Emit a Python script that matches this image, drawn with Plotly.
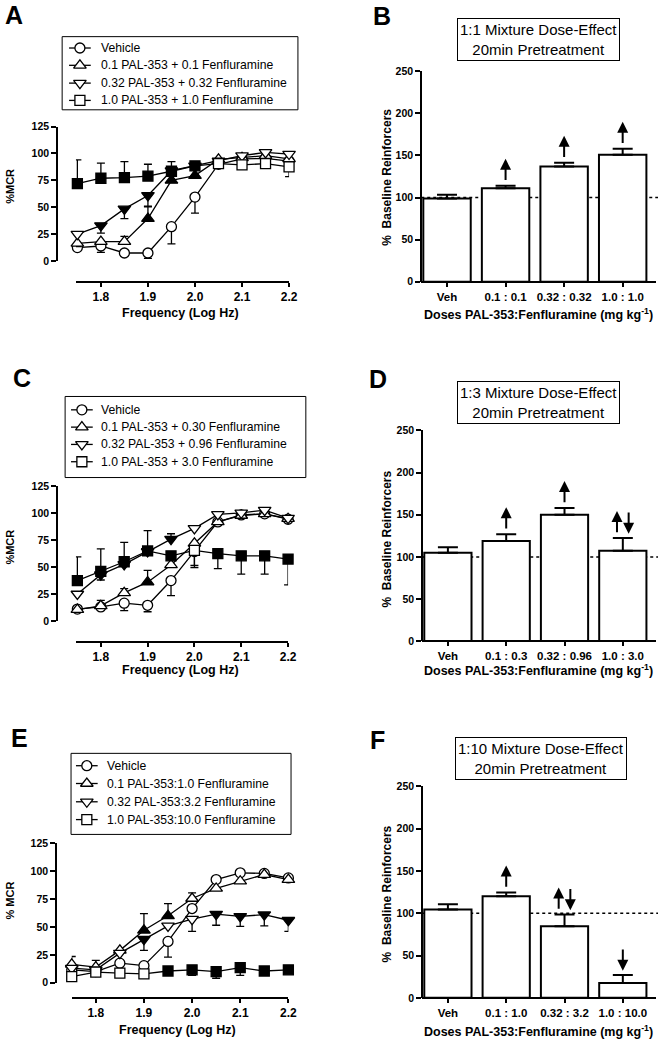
import plotly.graph_objects as go

W, H = 669, 1049
FONT = "Liberation Sans, Arial, sans-serif"


def px(x):
    return x / W


def py(y):
    return 1 - y / H


# ---------------- data ----------------
freq = [1.75, 1.80, 1.85, 1.90, 1.95, 2.00, 2.05, 2.10, 2.15, 2.20]
freq_ticks = [1.8, 1.9, 2.0, 2.1, 2.2]
freq_ticktext = ["1.8", "1.9", "2.0", "2.1", "2.2"]
mcr_ticks = [0, 25, 50, 75, 100, 125]
bar_ticks = [0, 50, 100, 150, 200, 250]

# Panel A
a_labels = ["Vehicle", "0.1 PAL-353 + 0.1 Fenfluramine",
            "0.32 PAL-353 + 0.32 Fenfluramine", "1.0 PAL-353 + 1.0 Fenfluramine"]
a_veh = [12.5, 14, 7.5, 7.5, 32, 59.5, 90, 95, 95.5, 93]
a_veh_up = [0, 0, 0, 0, 0, 0, 0, 0, 0, 0]
a_veh_dn = [0, 6, 0, 5, 16, 15, 0, 0, 0, 0]
a_veh_fill = [0, 0, 0, 0, 0, 0, 0, 0, 0, 0]
a_low = [16.5, 18, 18, 39.5, 75, 79.5, 94.5, 96, 98, 95]
a_low_up = [0, 0, 5, 11, 0, 0, 0, 0, 0, 0]
a_low_dn = [3, 0, 0, 0, 0, 0, 0, 0, 0, 0]
a_low_fill = [0, 0, 0, 1, 1, 1, 0, 0, 0, 0]
a_mid = [25, 33, 48.5, 61, 84, 88.5, 93, 98, 101, 99.5]
a_mid_up = [0, 0, 0, 0, 0, 0, 0, 0, 0, 0]
a_mid_dn = [0, 7, 9, 10, 0, 0, 0, 0, 0, 0]
a_mid_fill = [0, 1, 1, 1, 1, 1, 0, 0, 0, 0]
a_high = [72, 77, 77.5, 79, 83.5, 88.5, 90.5, 89.5, 90.5, 87.5]
a_high_up = [22, 14, 15, 11, 9, 0, 0, 0, 0, 0]
a_high_dn = [0, 0, 0, 0, 0, 0, 0, 0, 0, 9]
a_high_fill = [1, 1, 1, 1, 1, 1, 0, 0, 0, 0]

# Panel C
c_labels = ["Vehicle", "0.1 PAL-353 + 0.30 Fenfluramine",
            "0.32 PAL-353 + 0.96 Fenfluramine", "1.0 PAL-353 + 3.0 Fenfluramine"]
c_veh = [11, 13, 16.5, 14.5, 37.5, 64.5, 92, 98.5, 99.5, 94.5]
c_veh_up = [0, 0, 0, 0, 0, 0, 0, 0, 0, 0]
c_veh_dn = [0, 0, 7, 6, 14, 15, 0, 0, 0, 0]
c_veh_fill = [0, 0, 0, 0, 0, 0, 0, 0, 0, 0]
c_low = [10.5, 14, 26, 36, 52, 72, 92, 98, 99.5, 95]
c_low_up = [0, 5, 4, 11, 0, 0, 0, 0, 0, 0]
c_low_dn = [0, 0, 0, 0, 0, 0, 0, 0, 0, 0]
c_low_fill = [0, 0, 0, 1, 0, 0, 0, 0, 0, 0]
c_mid = [25, 43, 52.5, 64.5, 76, 86, 99, 100.5, 103, 95.5]
c_mid_up = [0, 0, 0, 0, 5, 0, 0, 0, 0, 0]
c_mid_dn = [0, 5, 0, 0, 0, 0, 0, 0, 0, 0]
c_mid_fill = [0, 1, 1, 1, 1, 0, 0, 0, 0, 0]
c_high = [37.5, 46, 55, 65, 60.5, 65.5, 62.5, 60.5, 60.5, 57.5]
c_high_up = [22, 21, 18, 19, 0, 0, 0, 0, 0, 0]
c_high_dn = [0, 0, 0, 0, 0, 14, 14, 17, 17, 24]
c_high_fill = [1, 1, 1, 1, 1, 0, 1, 1, 1, 1]

# Panel E
e_labels = ["Vehicle", "0.1 PAL-353:1.0 Fenfluramine",
            "0.32 PAL-353:3.2 Fenfluramine", "1.0 PAL-353:10.0 Fenfluramine"]
e_veh = [11.5, 10, 17.5, 15.3, 37, 66.5, 92.5, 98.5, 98, 94]
e_veh_up = [0, 0, 0, 0, 0, 0, 0, 0, 0, 0]
e_veh_dn = [0, 0, 0, 0, 14, 0, 0, 0, 0, 0]
e_veh_fill = [0, 0, 0, 0, 0, 0, 0, 0, 0, 0]
e_low = [16.5, 14, 29, 47, 60, 75.5, 84.5, 91, 97, 92.5]
e_low_up = [7, 6, 0, 15, 11, 5, 0, 0, 0, 0]
e_low_dn = [0, 0, 0, 0, 0, 0, 0, 0, 0, 0]
e_low_fill = [0, 0, 0, 1, 1, 0, 0, 0, 0, 0]
e_mid = [13, 11.5, 26.5, 39, 51, 57, 61.5, 59.5, 61, 56]
e_mid_up = [0, 0, 0, 0, 0, 0, 0, 0, 0, 0]
e_mid_dn = [0, 0, 0, 10, 0, 11, 10, 9, 10, 10]
e_mid_fill = [0, 0, 0, 1, 0, 0, 1, 1, 1, 1]
e_high = [5.5, 9.5, 8.5, 8, 10.5, 11.5, 10, 13.5, 10.5, 11.5]
e_high_up = [0, 0, 0, 0, 0, 0, 0, 0, 0, 0]
e_high_dn = [0, 0, 0, 0, 0, 5, 6, 7, 4, 0]
e_high_fill = [0, 0, 0, 0, 1, 1, 1, 1, 1, 1]

# Bar panels
b_cats = ["Veh", "0.1 : 0.1", "0.32 : 0.32", "1.0 : 1.0"]
b_vals = [99, 111, 137, 151]
b_err = [4.5, 3, 4.5, 7]
b_arrows = ["", "up", "up", "up"]
b_title = "1:1 Mixture Dose-Effect<br>20min Pretreatment"

d_cats = ["Veh", "0.1 : 0.3", "0.32 : 0.96", "1.0 : 3.0"]
d_vals = [105, 119, 150, 107.5]
d_err = [6.5, 8, 8, 15]
d_arrows = ["", "up", "up", "updown"]
d_title = "1:3 Mixture Dose-Effect<br>20min Pretreatment"

f_cats = ["Veh", "0.1 : 1.0", "0.32 : 3.2", "1.0 : 10.0"]
f_vals = [104.5, 120, 84.5, 17.5]
f_err = [6, 4.5, 14, 9.5]
f_arrows = ["", "up", "updown", "down"]
f_title = "1:10 Mixture Dose-Effect<br>20min Pretreatment"

# ---------------- figure ----------------
fig = go.Figure()
annotations = []
shapes = []
layout_axes = {}

symbols = ["circle", "triangle-up", "triangle-down", "square"]
msizes = [10, 11, 11, 10]

line_panels = [
    dict(n=1, labels=a_labels,
         series=[(a_veh, a_veh_up, a_veh_dn, a_veh_fill), (a_low, a_low_up, a_low_dn, a_low_fill),
                 (a_mid, a_mid_up, a_mid_dn, a_mid_fill), (a_high, a_high_up, a_high_dn, a_high_fill)],
         xdom=(77, 293), xr=[1.747, 2.2], xpos=279, ydom=(258, 122), ypos=58,
         legbox=(63, 31, 302, 105), legrows=(42.5, 60, 78, 95.5), legsym=81, legtext=100,
         letter=("A", 3, 9), ytitle=("%MCR", 10, 182), xtitle=(183, 311)),
    dict(n=3, labels=c_labels,
         series=[(c_veh, c_veh_up, c_veh_dn, c_veh_fill), (c_low, c_low_up, c_low_dn, c_low_fill),
                 (c_mid, c_mid_up, c_mid_dn, c_mid_fill), (c_high, c_high_up, c_high_dn, c_high_fill)],
         xdom=(77, 292), xr=[1.747, 2.2], xpos=643, ydom=(622, 486), ypos=58,
         legbox=(66, 395, 310, 477), legrows=(408.5, 426, 443.5, 461), legsym=83, legtext=100,
         letter=("C", 11, 376), ytitle=("%MCR", 10, 547), xtitle=(183, 672)),
    dict(n=5, labels=e_labels,
         series=[(e_veh, e_veh_up, e_veh_dn, e_veh_fill), (e_low, e_low_up, e_low_dn, e_low_fill),
                 (e_mid, e_mid_up, e_mid_dn, e_mid_fill), (e_high, e_high_up, e_high_dn, e_high_fill)],
         xdom=(72.7, 292.3), xr=[1.75, 2.2], xpos=1003, ydom=(988, 847), ypos=57,
         legbox=(72, 756, 295, 838), legrows=(768.5, 786.5, 805, 823), legsym=88, legtext=106,
         letter=("E", 9, 740), ytitle=("% MCR", 10, 905), xtitle=(180, 1036)),
]

# overlay axis in figure pixels, used only for the legend samples
OV_X, OV_Y = "x7", "y7"
layout_axes["xaxis7"] = dict(domain=[0, 1], range=[0, W], anchor="y7", visible=False, fixedrange=True)
layout_axes["yaxis7"] = dict(domain=[0, 1], range=[H, 0], anchor="x7", visible=False, fixedrange=True)

for p in line_panels:
    n = p["n"]
    xa, ya = f"x{n}" if n > 1 else "x", f"y{n}" if n > 1 else "y"
    for k, (vals, up, dn, fill) in enumerate(p["series"]):
        colors = ["black" if f else "white" for f in fill]
        fig.add_trace(go.Scatter(
            x=freq, y=vals, mode="lines+markers", xaxis=xa, yaxis=ya,
            showlegend=False, cliponaxis=False, name=p["labels"][k],
            line=dict(color="black", width=1.3),
            marker=dict(symbol=symbols[k], size=msizes[k], color=colors,
                        line=dict(color="black", width=1.3)),
            error_y=dict(type="data", symmetric=False, array=up, arrayminus=dn,
                         color="black", thickness=1.3, width=4),
        ))
    # legend box
    bx0, by0, bx1, by1 = p["legbox"]
    shapes.append(dict(type="rect", xref="paper", yref="paper", x0=px(bx0), x1=px(bx1),
                       y0=py(by1), y1=py(by0), line=dict(color="black", width=1),
                       fillcolor="white", layer="below"))
    for k, lab in enumerate(p["labels"]):
        r = p["legrows"][k]
        sx = p["legsym"]
        fig.add_trace(go.Scatter(
            x=[sx - 11, sx + 11], y=[r, r], mode="lines", xaxis=OV_X, yaxis=OV_Y,
            showlegend=False, hoverinfo="skip", cliponaxis=False,
            line=dict(color="black", width=1.3)))
        fig.add_trace(go.Scatter(
            x=[sx], y=[r], mode="markers", xaxis=OV_X, yaxis=OV_Y,
            showlegend=False, hoverinfo="skip", cliponaxis=False,
            marker=dict(symbol=symbols[k], size=msizes[k], color="white",
                        line=dict(color="black", width=1.3))))
        annotations.append(dict(text=lab, x=px(p["legtext"]), y=py(r), xref="paper", yref="paper",
                                xanchor="left", yanchor="middle", showarrow=False,
                                font=dict(family=FONT, size=12.2, color="black")))
    xkey = "xaxis" if n == 1 else f"xaxis{n}"
    ykey = "yaxis" if n == 1 else f"yaxis{n}"
    layout_axes[xkey] = dict(
        domain=[px(p["xdom"][0]), px(p["xdom"][1])], range=p["xr"], anchor="free",
        position=py(p["xpos"]), showline=True, linecolor="black", linewidth=2,
        ticks="outside", ticklen=4, tickwidth=2, tickcolor="black",
        tickvals=freq_ticks, ticktext=freq_ticktext, showgrid=False, zeroline=False,
        tickfont=dict(family=FONT, size=12, color="black", weight="bold"))
    layout_axes[ykey] = dict(
        domain=[py(p["ydom"][0]), py(p["ydom"][1])], range=[0, 125], anchor="free",
        position=px(p["ypos"]), showline=True, linecolor="black", linewidth=2,
        ticks="outside", ticklen=5, tickwidth=2, tickcolor="black",
        tickvals=mcr_ticks, showgrid=False, zeroline=False,
        tickfont=dict(family=FONT, size=10.5, color="black", weight="bold"))
    L, lx, ly = p["letter"]
    annotations.append(dict(text=f"<b>{L}</b>", x=px(lx), y=py(ly), xref="paper", yref="paper",
                            xanchor="left", yanchor="middle", showarrow=False,
                            font=dict(family=FONT, size=25, color="black")))
    t, tx, ty = p["ytitle"]
    annotations.append(dict(text=f"<b>{t}</b>", x=px(tx), y=py(ty), xref="paper", yref="paper",
                            xanchor="center", yanchor="middle", textangle=-90, showarrow=False,
                            font=dict(family=FONT, size=11, color="black")))
    annotations.append(dict(text="<b>Frequency (Log Hz)</b>", x=px(p["xtitle"][0]), y=py(p["xtitle"][1]),
                            xref="paper", yref="paper", xanchor="center", yanchor="middle",
                            showarrow=False, font=dict(family=FONT, size=12.5, color="black")))

bar_panels = [
    dict(n=2, cats=b_cats, vals=b_vals, err=b_err, arrows=b_arrows, title=b_title,
         xdom=(427, 665), ydom=(279, 66), box=(546, 33.5), letter=("B", 376, 10),
         ytitle_y=173, xtitle_y=312),
    dict(n=4, cats=d_cats, vals=d_vals, err=d_err, arrows=d_arrows, title=d_title,
         xdom=(428, 665), ydom=(642.7, 429.3), box=(546, 401), letter=("D", 372, 377),
         ytitle_y=539, xtitle_y=672),
    dict(n=6, cats=f_cats, vals=f_vals, err=f_err, arrows=f_arrows, title=f_title,
         xdom=(428, 665), ydom=(1003.3, 789.3), box=(548, 761.5), letter=("F", 373, 742),
         ytitle_y=898, xtitle_y=1037),
]

for p in bar_panels:
    n = p["n"]
    xa, ya = f"x{n}", f"y{n}"
    xs = list(range(len(p["cats"])))
    fig.add_trace(go.Bar(
        x=xs, y=p["vals"], xaxis=xa, yaxis=ya, width=0.81, showlegend=False,
        marker=dict(color="white", line=dict(color="black", width=2)),
        error_y=dict(type="data", symmetric=False, array=p["err"],
                     arrayminus=[0] * len(xs), color="black", thickness=2, width=10),
    ))
    layout_axes[f"xaxis{n}"] = dict(
        domain=[px(p["xdom"][0]), px(p["xdom"][1])], range=[-0.44, 3.57], anchor="free",
        position=py(p["ydom"][0]), showline=True, linecolor="black", linewidth=2,
        ticks="outside", ticklen=4, tickwidth=1.5, tickcolor="black",
        tickvals=xs, ticktext=p["cats"], showgrid=False, zeroline=False,
        tickfont=dict(family=FONT, size=11.5, color="black", weight="bold"))
    layout_axes[f"yaxis{n}"] = dict(
        domain=[py(p["ydom"][0]), py(p["ydom"][1])], range=[0, 250], anchor="free",
        position=px(p["xdom"][0]), showline=True, linecolor="black", linewidth=2,
        ticks="outside", ticklen=5, tickwidth=2, tickcolor="black",
        tickvals=bar_ticks, showgrid=False, zeroline=False,
        tickfont=dict(family=FONT, size=10.5, color="black", weight="bold"))
    shapes.append(dict(type="line", xref="paper", yref=ya, x0=px(p["xdom"][0]), x1=px(667),
                       y0=100, y1=100, layer="below",
                       line=dict(color="black", width=1.5, dash="dot")))
    # significance arrows
    for i, d in enumerate(p["arrows"]):
        if not d:
            continue
        top = p["vals"][i] + p["err"][i]
        lo, hi = top + 5, top + 32
        if d == "up":
            items = [(i, hi, lo)]
        elif d == "down":
            items = [(i, lo, hi)]
        else:
            items = [(i - 0.1, hi, lo), (i + 0.1, lo, hi)]
        for xx, head, tail in items:
            annotations.append(dict(x=xx, y=head, ax=xx, ay=tail, xref=xa, yref=ya,
                                    axref=xa, ayref=ya, text="", showarrow=True,
                                    arrowhead=2, arrowsize=1.1, arrowwidth=2,
                                    arrowcolor="black", standoff=0, startstandoff=0))
    annotations.append(dict(text=p["title"], x=px(p["box"][0]), y=py(p["box"][1]),
                            xref="paper", yref="paper", xanchor="center", yanchor="middle",
                            showarrow=False, bordercolor="black", borderwidth=1, borderpad=2,
                            bgcolor="white", font=dict(family=FONT, size=15, color="black")))
    L, lx, ly = p["letter"]
    annotations.append(dict(text=f"<b>{L}</b>", x=px(lx), y=py(ly), xref="paper", yref="paper",
                            xanchor="left", yanchor="middle", showarrow=False,
                            font=dict(family=FONT, size=25, color="black")))
    annotations.append(dict(text="<b>%  Baseline Reinforcers</b>", x=px(392), y=py(p["ytitle_y"]),
                            xref="paper", yref="paper", xanchor="center", yanchor="middle",
                            textangle=-90, showarrow=False,
                            font=dict(family=FONT, size=12, color="black")))
    annotations.append(dict(text="<b>Doses PAL-353:Fenfluramine (mg kg<sup>-1</sup>)</b>",
                            x=px(546), y=py(p["xtitle_y"]), xref="paper", yref="paper",
                            xanchor="center", yanchor="middle", showarrow=False,
                            font=dict(family=FONT, size=12.5, color="black")))

fig.update_layout(
    width=W, height=H, margin=dict(l=0, r=0, t=0, b=0),
    paper_bgcolor="white", plot_bgcolor="rgba(0,0,0,0)",
    font=dict(family=FONT, color="black"),
    annotations=annotations, shapes=shapes, showlegend=False,
    **layout_axes,
)

fig.write_html("out.html", config={"displayModeBar": False},
               post_script="document.body.style.margin='0px';document.body.style.overflow='hidden';")
